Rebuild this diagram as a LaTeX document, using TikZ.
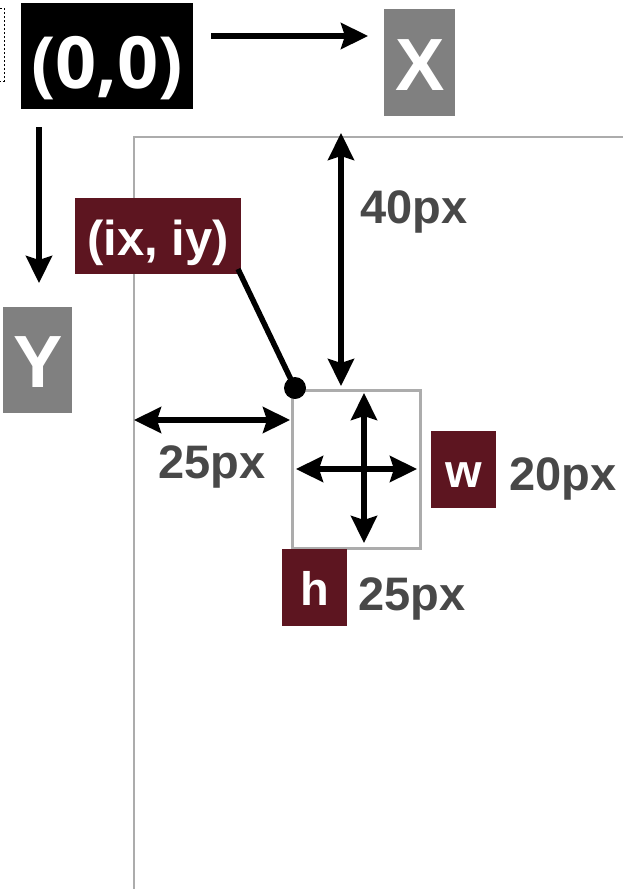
\documentclass[tikz,border=0pt]{standalone}
\usepackage{fontspec}
\setmainfont{Liberation Sans}
\newfontfamily\originfont{Open Sans}
\usepackage{tikz}
\usetikzlibrary{arrows.meta}
\usetikzlibrary{positioning}
\definecolor{wine}{RGB}{93,21,32}
\definecolor{axisgray}{RGB}{128,128,128}
\definecolor{framegray}{RGB}{172,172,172}
\definecolor{labelgray}{RGB}{72,72,72}

\begin{document}
\begin{tikzpicture}[x=1pt,y=-1pt,
  >={Stealth[length=27pt,width=26pt,inset=4pt]},
  axisbox/.style={fill=axisgray,text=white,inner sep=0pt,anchor=north west,font=\fontsize{74}{74}\selectfont\bfseries},
  varbox/.style={fill=wine,text=white,inner sep=0pt,anchor=north west,font=\fontsize{47}{47}\selectfont\bfseries},
  pxlabel/.style={anchor=base west,inner sep=0pt,text=labelgray,font=\fontsize{47}{47}\selectfont\bfseries},
  arr/.style={line width=5.5pt}]
\useasboundingbox (0,0) rectangle (623,889);
% dotted box, cut by the left edge
\begin{scope}
\clip (0,0) rectangle (623,889);
\draw [line width=1pt, dash pattern=on 2pt off 2pt] (-20,8) rectangle (4,81);
\end{scope}

% origin and axes
\node [fill=black,text=white,inner sep=0pt,anchor=north west,minimum width=172pt,
  text height=85pt,text depth=21pt,font=\originfont\fontsize{72}{72}\selectfont\bfseries] (origin) at (21,3) {(0,0)};
\node [axisbox,minimum width=71pt,text height=81pt,text depth=26pt] (xaxis) at (384,9) {X};
\node [axisbox,minimum width=69pt,text height=80pt,text depth=26pt] (yaxis) at (3,307) {Y};
\coordinate (xfrom) at (211,36);
\coordinate (xto) at (368,36);
\coordinate (yfrom) at (39,127);
\coordinate (yto) at (39,283);
\draw [arr,->] (xfrom)--(xto);
\draw [arr,->] (yfrom)--(yto);

% container frame
\coordinate (corner) at (134,137);
\draw [framegray, line width=2pt] (134,889)--(corner)--(623,137);

% element box
\node [draw=framegray,line width=3pt,inner sep=0pt,anchor=north west,minimum width=128pt,minimum height=158pt] (elem) at (291,389) {};
\coordinate (topgap) at (341,133);
\coordinate (elemtop) at (341,386);
\coordinate (leftgap) at (134,420);
\coordinate (elemleft) at (290,420);
\draw [arr,<->] (topgap)--(elemtop);
\draw [arr,<->] (leftgap)--(elemleft);
\node [pxlabel] (toplabel) at (360,223) {40px};
\node [pxlabel] (leftlabel) at (158,478) {25px};

% size arrows inside the element
\coordinate (wleft) at (296,469);
\coordinate (wright) at (417,469);
\coordinate (htop) at (364,393);
\coordinate (hbottom) at (364,543);
\draw [arr,<->] (wleft)--(wright);
\draw [arr,<->] (htop)--(hbottom);

% position marker
\node [varbox,minimum width=166pt,text height=57pt,text depth=19pt,font=\fontsize{49}{49}\selectfont\bfseries] (pos) at (75,198) {(ix, iy)};
\coordinate (posfoot) at (238,269);
\coordinate (anchorpt) at (295,388);
\draw [arr] (posfoot)--(anchorpt);
\fill (anchorpt) circle (11pt);

% width and height labels
\node [varbox,minimum width=65pt,text height=56pt,text depth=21pt] (wbox) at (431,431) {w};
\node [pxlabel] (wlabel) at (509,490) {20px};
\node [varbox,minimum width=65pt,text height=56pt,text depth=21pt] (hbox) at (282,549) {h};
\node [pxlabel] (hlabel) at (358,610) {25px};

\end{tikzpicture}
\end{document}
